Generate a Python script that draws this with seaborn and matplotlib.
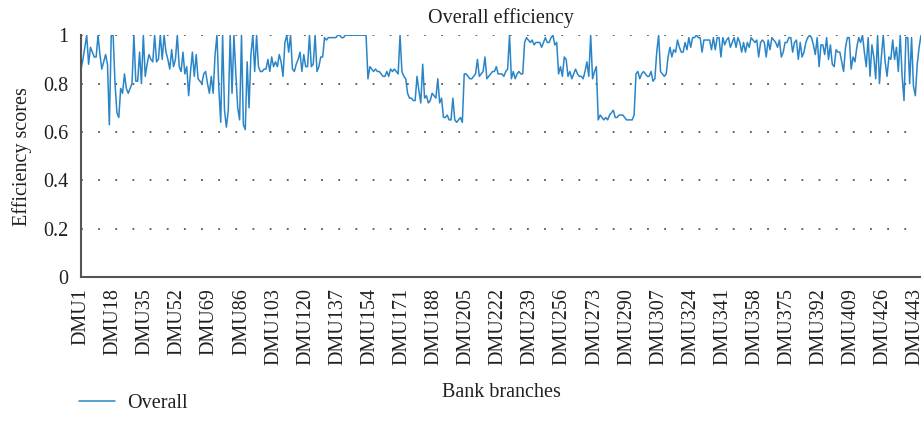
import matplotlib
matplotlib.use("Agg")
import matplotlib.pyplot as plt
import seaborn as sns
import numpy as np
import pandas as pd

# Overall efficiency scores
scores_001_058 = [0.86, 0.90, 0.95, 1.0, 0.88, 0.95, 0.93, 0.91, 0.91, 1.0,
                  0.92, 0.86, 0.89, 0.92, 0.88, 0.63, 1.0, 1.0, 0.80, 0.68,
                  0.66, 0.78, 0.76, 0.84, 0.78, 0.76, 0.78, 0.80, 1.0, 0.81,
                  0.81, 0.93, 0.80, 1.0, 0.83, 0.88, 0.92, 0.90, 0.89, 1.0,
                  0.89, 0.90, 1.0, 0.90, 1.0, 0.93, 0.90, 0.86, 0.94, 0.87,
                  0.90, 1.0, 0.87, 0.85, 0.93, 0.84, 0.87, 0.75]
scores_059_111 = [0.85, 0.93, 0.83, 0.92, 0.82, 0.81, 0.80, 0.84, 0.85, 0.80,
                  0.76, 0.83, 0.76, 0.92, 1.0, 0.78, 0.64, 1.0, 0.69, 0.62,
                  0.69, 1.0, 0.76, 1.0, 0.84, 0.70, 0.65, 1.0, 0.63, 0.61,
                  0.89, 0.70, 0.92, 1.0, 0.85, 1.0, 0.87, 0.85, 0.85, 0.86,
                  0.86, 0.90, 0.85, 0.91, 0.87, 0.89, 0.87, 0.92, 0.89, 0.83,
                  0.97, 1.0, 0.93]
scores_112_166 = [1.0, 0.86, 0.85, 0.88, 0.90, 0.93, 0.85, 0.92, 0.87, 0.87,
                  1.0, 0.87, 0.88, 1.0, 0.85, 0.87, 0.91, 0.91, 0.99, 0.98,
                  0.99, 0.99, 0.99, 0.99, 0.99, 1.0, 1.0, 0.99, 0.99,
                  1.0, 1.0, 1.0, 1.0, 1.0, 1.0, 1.0, 1.0, 1.0, 1.0, 1.0, 1.0,
                  0.82, 0.87, 0.86, 0.85, 0.86, 0.85, 0.85, 0.84, 0.83, 0.83,
                  0.85, 0.83, 0.86, 0.85]
scores_167_222 = [0.86, 0.85, 0.84, 1.0, 0.85, 0.83, 0.82, 0.76, 0.74, 0.74,
                  0.73, 0.73, 0.83, 0.77, 0.72, 0.88, 0.74, 0.75, 0.72, 0.73,
                  0.76, 0.75, 0.74, 0.82, 0.72, 0.74, 0.66, 0.66, 0.67, 0.65,
                  0.65, 0.74, 0.65, 0.64, 0.65, 0.66, 0.64, 0.84, 0.84, 0.83,
                  0.82, 0.82, 0.83, 0.84, 0.90, 0.83, 0.84, 0.85, 0.91, 0.82,
                  0.83, 0.84, 0.85, 0.85, 0.87, 0.84]
scores_223_279 = [0.84, 0.84, 0.83, 0.85, 0.86, 1.0, 0.82, 0.85, 0.82, 0.84,
                  0.85, 0.84, 0.84, 0.97, 0.99, 0.98, 0.97, 0.98, 0.96, 0.97,
                  0.97, 0.97, 0.95, 0.97, 0.99, 0.97, 0.97, 0.99, 1.0, 0.96,
                  0.97, 0.84, 0.87, 0.83, 0.91, 0.90, 0.83, 0.85, 0.82, 0.84,
                  0.86, 0.84, 0.83, 0.83, 0.82, 0.85, 0.89, 0.83, 1.0, 0.82,
                  0.85, 0.87, 0.65, 0.67, 0.66, 0.65, 0.66]
scores_280_336 = [0.65, 0.67, 0.68, 0.69, 0.66, 0.66, 0.67, 0.67, 0.67, 0.66,
                  0.65, 0.65, 0.65, 0.65, 0.67, 0.84, 0.85, 0.82, 0.84, 0.85,
                  0.84, 0.83, 0.83, 0.85, 0.81, 0.82, 0.93, 1.0, 0.85, 0.84,
                  0.83, 0.84, 0.91, 0.95, 0.91, 0.94, 0.93, 0.98, 0.95, 0.93,
                  0.93, 0.97, 0.94, 0.99, 0.95, 0.99, 0.99, 1.0, 0.99, 0.99,
                  0.93, 0.98, 0.98, 0.98, 0.98, 0.94, 0.99]
scores_337_392 = [0.94, 0.99, 0.99, 0.91, 0.99, 0.96, 0.98, 0.99, 0.95, 0.97,
                  0.99, 0.95, 0.99, 0.97, 0.93, 0.97, 0.93, 0.97, 0.95, 0.99,
                  0.98, 0.97, 0.98, 0.91, 0.97, 0.98, 0.97, 0.91, 0.98, 0.94,
                  0.99, 0.98, 0.97, 0.95, 0.98, 0.91, 0.93, 0.97, 0.97, 0.99,
                  0.99, 0.93, 0.97, 0.98, 0.90, 0.97, 0.91, 0.93, 0.97, 0.99,
                  1.0, 0.99, 0.96, 0.92, 0.99, 0.87]
scores_393_446 = [0.96, 0.96, 0.92, 0.99, 0.90, 0.96, 0.88, 0.87, 0.94, 0.93,
                  0.93, 0.89, 0.85, 0.95, 0.99, 0.99, 0.86, 0.91, 0.89, 0.95,
                  0.99, 0.97, 1.0, 0.93, 0.87, 0.99, 0.83, 0.96, 0.91, 0.82,
                  1.0, 0.80, 0.91, 1.0, 0.89, 0.83, 0.91, 0.90, 0.98, 0.90,
                  0.95, 0.85, 1.0, 0.83, 0.73, 0.99, 0.99, 0.80, 0.99, 0.79,
                  0.75, 0.88, 0.95, 1.0]

tick_dmus = list(range(1, 444, 17))
tick_labels = ["DMU%d" % d for d in tick_dmus]
y_ticks = [0, 0.2, 0.4, 0.6, 0.8, 1]
y_labels = ["0", "0.2", "0.4", "0.6", "0.8", "1"]

overall = (scores_001_058 + scores_059_111 + scores_112_166 + scores_167_222
           + scores_223_279 + scores_280_336 + scores_337_392 + scores_393_446)
df = pd.DataFrame({"dmu": np.arange(1, len(overall) + 1), "Overall": overall})

sns.set_style("white")
plt.rcParams["font.family"] = ["Liberation Serif", "DejaVu Serif"]
text_col = "#231f20"
line_col = "#2a85c8"

fig = plt.figure(figsize=(9.21, 4.40), dpi=100)
ax = fig.add_axes([0.088, 0.370, 0.912, 0.550])

sns.lineplot(data=df, x="dmu", y="Overall", ax=ax, color=line_col,
             linewidth=1.1, label="Overall", legend=False)

ax.set_xlim(1, len(overall))
ax.set_ylim(0, 1)
ax.set_xticks(tick_dmus)
ax.set_xticklabels(tick_labels, rotation=90, fontsize=14.5, color=text_col)
ax.set_yticks(y_ticks)
ax.set_yticklabels(y_labels, fontsize=14.5, color=text_col)
ax.tick_params(axis="x", length=0, pad=8)
ax.tick_params(axis="y", length=5, width=1.2, color="#555555", pad=4)

# dotted horizontal grid
for yv in y_ticks[1:]:
    ax.axhline(yv, color="#555555", linewidth=1.3, linestyle=(0, (1, 8.5)), zorder=0)

for side in ["top", "right"]:
    ax.spines[side].set_visible(False)
for side in ["left", "bottom"]:
    ax.spines[side].set_color("#555555")
    ax.spines[side].set_linewidth(1.5)

ax.set_title("Overall efficiency", fontsize=14.5, color=text_col, pad=9)
ax.set_xlabel("Bank branches", fontsize=14.5, color=text_col, labelpad=13)
ax.set_ylabel("Efficiency scores", fontsize=14.5, color=text_col, labelpad=8)

handles, labels = ax.get_legend_handles_labels()
fig.legend(handles, labels, loc="center left", bbox_to_anchor=(0.066, 0.084),
           frameon=False, fontsize=14.5, handlelength=1.8, handletextpad=0.6,
           labelcolor=text_col)

fig.savefig("out.png", dpi=100)
